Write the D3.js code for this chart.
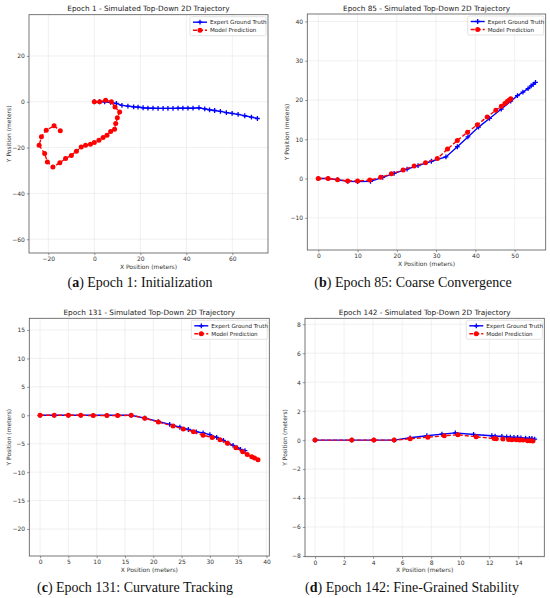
<!DOCTYPE html>
<html>
<head>
<meta charset="utf-8">
<script src="https://cdn.jsdelivr.net/npm/d3@7"></script>
<style>
  body { margin: 0; background: #fff; }
  svg { display: block; }
  .tick text { font-family: "DejaVu Sans", sans-serif; font-size: 6px; fill: #333; }
  .ttl { font-family: "DejaVu Sans", sans-serif; font-size: 7.3px; fill: #222; }
  .lbl { font-family: "DejaVu Sans", sans-serif; font-size: 6px; fill: #333; }
  .leg { font-family: "DejaVu Sans", sans-serif; font-size: 5.6px; fill: #222; }
  .cap { font-family: "Liberation Serif", serif; font-size: 14px; fill: #111; }
</style>
</head>
<body>
<svg id="fig" width="550" height="598"></svg>
<script>
// ---------------- data (x, y in meters) ----------------
const seriesNames = ["Expert Ground Truth", "Model Prediction"];

const epoch1Expert = [[0,0],[2.3,0],[4.5,0],[7.1,-0.3],[9.6,-0.7],[12,-1.6],[14.6,-1.9],[17.1,-2.2],[19,-2.3],
  [21.2,-2.6],[23.3,-2.8],[25.5,-2.8],[27.7,-2.9],[29.9,-2.9],[32,-2.9],[34.2,-2.9],[36.4,-2.8],[38.5,-2.8],
  [40.7,-2.8],[42.9,-2.8],[45.5,-2.6],[48,-3.1],[50.1,-3.5],[52.3,-3.8],[54.8,-4.2],[57.4,-4.7],[59.9,-5.1],
  [62.5,-5.5],[65.4,-6.1],[68.3,-6.7],[70.9,-7.3]];
const epoch1Pred = [[0,0],[2.3,0],[4.9,0.7],[7.4,0],[9,-2.3],[11,-4.5],[10,-7],[9.3,-9.5],[8.8,-12],[7.1,-13],
  [5.5,-14.6],[3.8,-15.6],[2,-16.8],[0,-17.8],[-1.7,-18.5],[-3.8,-19],[-5.7,-19.7],[-7.8,-21.6],[-10,-23.4],
  [-12.5,-24.8],[-15,-26.6],[-18,-28.5],[-20.4,-26.3],[-21.6,-22.6],[-24,-19],[-23,-15.3],[-20.9,-12.4],
  [-17.5,-10.5],[-14.8,-12.7]];

const epoch85Expert = [[0,0],[2.5,0],[4.9,-0.3],[7.5,-0.7],[10,-0.8],[13.3,-0.7],[16.4,0.3],[19.3,1.3],[22.6,2.4],
  [25.4,3.3],[28.8,4.4],[32.5,5.5],[35.4,8.1],[38.1,10.6],[40.8,13.1],[43.6,15.3],[46.6,17.7],[49,19.7],
  [50.7,21.1],[52.1,22],[53.4,22.9],[54.2,23.6],[54.7,24],[55.3,24.5]];
const epoch85Pred = [[0,0],[2.5,0],[4.9,-0.3],[7.5,-0.6],[10,-0.6],[13.1,-0.4],[15.9,0.3],[18.6,1.2],[21.6,2.2],
  [24.4,3.2],[27.3,4],[30.3,5.1],[32.9,7.5],[35.4,9.7],[38,11.8],[40.5,13.7],[43,15.7],[45.2,17.4],[46.6,18.4],
  [47.5,19.1],[48.1,19.6],[48.6,20],[49,20.3]];

const epoch131Expert = [[0,0],[2.5,0],[5,0],[7.2,0],[9.4,0],[11.8,0],[13.7,0],[16.1,0],[18.5,-0.5],[20.9,-1.1],
  [22.9,-1.6],[24.7,-2.1],[26.2,-2.5],[27.6,-2.9],[28.8,-3.1],[30,-3.4],[31.2,-3.9],[32.4,-4.4],[33.2,-4.9],
  [34.1,-5.3],[34.8,-5.7],[35.4,-6],[36.2,-6.2]];
const epoch131Pred = [[0,0],[2.5,0],[5,0],[7.2,0],[9.4,-0.05],[11.8,-0.05],[13.7,-0.05],[16.1,0],[18.5,-0.5],
  [20.9,-1.2],[23.5,-1.9],[25.3,-2.4],[27.1,-2.9],[28.8,-3.5],[30.4,-3.9],[31.8,-4.3],[33.1,-4.9],[34.6,-5.7],
  [35.8,-6.4],[36.6,-6.9],[37.4,-7.3],[37.9,-7.5],[38.5,-7.8]];

const epoch142Expert = [[0,0],[2.53,0],[4.05,0],[5.45,0],[6.55,0.16],[7.7,0.3],[8.74,0.41],[9.66,0.5],[10.92,0.39],
  [12.18,0.3],[12.4,0.28],[12.87,0.25],[13.2,0.23],[13.45,0.2],[13.7,0.18],[13.95,0.18],[14.18,0.16],[14.5,0.14],
  [14.76,0.11],[14.94,0.11],[15.13,0.07]];
const epoch142Pred = [[0,0],[2.53,0],[4.05,0],[5.45,0],[6.55,0.09],[7.77,0.2],[8.9,0.3],[9.84,0.37],[11.1,0.23],
  [12.34,0.11],[12.48,0.09],[12.94,0.07],[13.33,0.05],[13.56,0.02],[13.86,0.02],[14.09,0],[14.32,0],[14.64,-0.05],
  [14.83,-0.05],[15.0,-0.07]];

const titles = ["Epoch 1 - Simulated Top-Down 2D Trajectory", "Epoch 85 - Simulated Top-Down 2D Trajectory",
  "Epoch 131 - Simulated Top-Down 2D Trajectory", "Epoch 142 - Simulated Top-Down 2D Trajectory"];
const captionTags = ["a", "b", "c", "d"];
const captionTexts = [" Epoch 1: Initialization", " Epoch 85: Coarse Convergence",
  " Epoch 131: Curvature Tracking", " Epoch 142: Fine-Grained Stability"];

const xTicks = [[-20,0,20,40,60], [0,10,20,30,40,50], [0,5,10,15,20,25,30,35,40], [0,2,4,6,8,10,12,14]];
const yTicks = [[-60,-40,-20,0,20], [-10,0,10,20,30,40], [-20,-15,-10,-5,0,5,10,15], [-8,-6,-4,-2,0,2,4,6,8]];
const xDomains = [[-28.4,75.5], [-2.8,57.9], [-1.9,40.5], [-0.69,15.79]];
const yDomains = [[-66,38], [-18.2,41.9], [-24.75,17.06], [-8.05,8.41]];

// ---------------- layout ----------------
const panels = [
  { box: [29, 14.7, 268, 253], cap: [140, 287], exp: epoch1Expert, pred: epoch1Pred },
  { box: [307.3, 14, 545.7, 250], cap: [413, 287], exp: epoch85Expert, pred: epoch85Pred },
  { box: [29.3, 318.3, 269.3, 556], cap: [135, 592], exp: epoch131Expert, pred: epoch131Pred },
  { box: [305, 318.3, 544.3, 556.7], cap: [412, 592], exp: epoch142Expert, pred: epoch142Pred }
];

const svg = d3.select("#fig");
const minus = s => String(s).replace("-", "\u2212");
const plusPath = "M-2.4,0H2.4M0,-2.4V2.4";

panels.forEach(function(p, i) {
  const [l, t, r, b] = p.box;
  const x = d3.scaleLinear().domain(xDomains[i]).range([l, r]);
  const y = d3.scaleLinear().domain(yDomains[i]).range([b, t]);
  const g = svg.append("g");

  // grid
  g.append("g").selectAll("line").data(xTicks[i]).enter().append("line")
    .attr("x1", d => x(d)).attr("x2", d => x(d)).attr("y1", t).attr("y2", b)
    .style("stroke", "#e6e6e6").style("stroke-width", 0.6);
  g.append("g").selectAll("line").data(yTicks[i]).enter().append("line")
    .attr("y1", d => y(d)).attr("y2", d => y(d)).attr("x1", l).attr("x2", r)
    .style("stroke", "#e6e6e6").style("stroke-width", 0.6);

  // axes
  const xa = g.append("g").attr("transform", "translate(0," + b + ")")
    .call(d3.axisBottom(x).tickValues(xTicks[i]).tickSize(2.2).tickPadding(2).tickFormat(minus));
  const ya = g.append("g").attr("transform", "translate(" + l + ",0)")
    .call(d3.axisLeft(y).tickValues(yTicks[i]).tickSize(2.2).tickPadding(2).tickFormat(minus));
  [xa, ya].forEach(a => {
    a.select(".domain").remove();
    a.selectAll(".tick line").style("stroke", "#555").style("stroke-width", 0.6);
  });

  // lines + markers
  const line = d3.line().x(d => x(d[0])).y(d => y(d[1]));
  g.append("path").datum(p.exp).attr("d", line)
    .style("fill", "none").style("stroke", "#0000ff").style("stroke-width", 1.4);
  g.append("g").selectAll("path").data(p.exp).enter().append("path")
    .attr("d", plusPath)
    .attr("transform", d => "translate(" + x(d[0]) + "," + y(d[1]) + ")")
    .style("stroke", "#0000ff").style("stroke-width", 1.3);

  g.append("path").datum(p.pred).attr("d", line)
    .style("fill", "none").style("stroke", "#ff0000").style("stroke-width", 1.4)
    .style("stroke-dasharray", "4,2");
  g.append("g").selectAll("circle").data(p.pred).enter().append("circle")
    .attr("cx", d => x(d[0])).attr("cy", d => y(d[1])).attr("r", 2.5)
    .style("fill", "#ff0000");

  // frame
  g.append("rect").attr("x", l).attr("y", t).attr("width", r - l).attr("height", b - t)
    .style("fill", "none").style("stroke", "#555").style("stroke-width", 0.8);

  // title and axis labels
  g.append("text").attr("class", "ttl").attr("x", (l + r) / 2).attr("y", t - 3.5)
    .attr("text-anchor", "middle").text(titles[i]);
  g.append("text").attr("class", "lbl").attr("x", (l + r) / 2).attr("y", b + 15.5)
    .attr("text-anchor", "middle").text("X Position (meters)");
  g.append("text").attr("class", "lbl")
    .attr("transform", "translate(" + (l - 18) + "," + ((t + b) / 2) + ") rotate(-90)")
    .attr("text-anchor", "middle").text("Y Position (meters)");

  // legend
  const lw = 76, lh = 19;
  const lg = g.append("g").attr("transform", "translate(" + (r - lw - 2) + "," + (t + 2) + ")");
  lg.append("rect").attr("width", lw).attr("height", lh).attr("rx", 1.5)
    .style("fill", "#fff").style("fill-opacity", 0.85).style("stroke", "#d0d0d0").style("stroke-width", 0.6);
  seriesNames.forEach(function(name, k) {
    const yy = 5.5 + k * 8;
    const col = k === 0 ? "#0000ff" : "#ff0000";
    lg.append("line").attr("x1", 3).attr("x2", 17).attr("y1", yy).attr("y2", yy)
      .style("stroke", col).style("stroke-width", 1.4)
      .style("stroke-dasharray", k === 0 ? null : "4,2");
    if (k === 0) {
      lg.append("path").attr("d", plusPath).attr("transform", "translate(10," + yy + ")")
        .style("stroke", col).style("stroke-width", 1.3);
    } else {
      lg.append("circle").attr("cx", 10).attr("cy", yy).attr("r", 2.5).style("fill", col);
    }
    lg.append("text").attr("class", "leg").attr("x", 20).attr("y", yy + 2).text(name);
  });

  // caption
  const cap = svg.append("text").attr("class", "cap").attr("x", p.cap[0]).attr("y", p.cap[1])
    .attr("text-anchor", "middle");
  cap.append("tspan").text("(");
  cap.append("tspan").style("font-weight", "bold").text(captionTags[i]);
  cap.append("tspan").text(")" + captionTexts[i]);
});
</script>
</body>
</html>
